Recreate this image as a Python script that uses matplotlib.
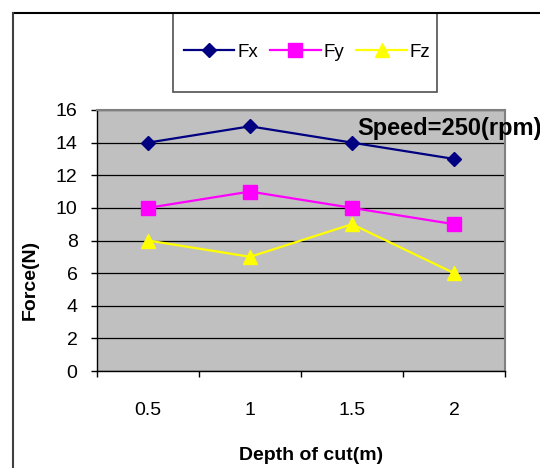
import matplotlib.pyplot as plt
from matplotlib.patches import Rectangle
from matplotlib.lines import Line2D

plt.rcParams['font.family'] = ['Liberation Sans', 'DejaVu Sans']

depth = ["0.5", "1", "1.5", "2"]
fx = [14, 15, 14, 13]
fy = [10, 11, 10, 9]
fz = [8, 7, 9, 6]
yticks = [0, 2, 4, 6, 8, 10, 12, 14, 16]

W, H = 540, 468
fig = plt.figure(figsize=(W / 100, H / 100), dpi=100)

# Achsenbereich in Pixeln: links 97, rechts 505, oben 110, unten 371
ax = fig.add_axes([97 / W, (H - 371) / H, (505 - 97) / W, (371 - 110) / H])
ax.set_facecolor("#C0C0C0")

x = list(range(len(depth)))
ax.plot(x, fx, color="#000080", lw=1.6, marker="D", ms=7, label="Fx", zorder=3)
ax.plot(x, fy, color="#FF00FF", lw=1.6, marker="s", ms=9.5, label="Fy", zorder=3)
ax.plot(x, fz, color="#FFFF00", lw=1.6, marker="^", ms=10, label="Fz", zorder=3)

ax.set_xlim(-0.5, len(depth) - 0.5)
ax.set_ylim(0, 16)
ax.set_yticks(yticks)
ax.tick_params(axis="y", length=4, width=1, pad=10, labelsize=14, colors="black")
ax.yaxis.grid(True, color="black", lw=0.9)

# Kategorienachse: Striche zwischen den Kategorien, Beschriftung mittig
ax.set_xticks([i - 0.5 for i in range(len(depth) + 1)])
ax.set_xticklabels([])
ax.set_xticks(x, minor=True)
ax.set_xticklabels(depth, minor=True)
ax.tick_params(axis="x", which="major", length=4, width=1, direction="out")
ax.tick_params(axis="x", which="minor", length=0, pad=22, labelsize=14)

for s in ["top", "right"]:
    ax.spines[s].set_color("#808080")
    ax.spines[s].set_linewidth(1.5)
for s in ["left", "bottom"]:
    ax.spines[s].set_color("black")
    ax.spines[s].set_linewidth(1)

fig.text(311 / W, 1 - 455 / H, "Depth of cut(m)", ha="center", va="center",
         fontsize=14, fontweight="bold")
fig.text(30 / W, 1 - 280 / H, "Force(N)", ha="center", va="center",
         rotation=90, fontsize=14, fontweight="bold")
fig.text(357 / W, 1 - 135 / H, "Speed=250(rpm)", ha="left", va="baseline",
         fontsize=17, fontweight="bold")

# Rahmen des Diagramms
fig.add_artist(Line2D([13 / W, 1], [1 - 13 / H, 1 - 13 / H], color="black", lw=1.5))
fig.add_artist(Line2D([13 / W, 13 / W], [0, 1 - 13 / H], color="#404040", lw=1.5))

# Legendenkasten
fig.add_artist(Rectangle((173 / W, 1 - 92 / H), (437 - 173) / W, (92 - 13) / H,
                         transform=fig.transFigure, fill=False,
                         edgecolor="#505050", lw=1.2))
fig.legend(loc="center", bbox_to_anchor=(307 / W, 1 - 52 / H), ncol=3,
           frameon=False, fontsize=13.5, handlelength=2.7, handletextpad=0.15,
           columnspacing=0.65, borderpad=0)

fig.savefig("out.png", dpi=100)
